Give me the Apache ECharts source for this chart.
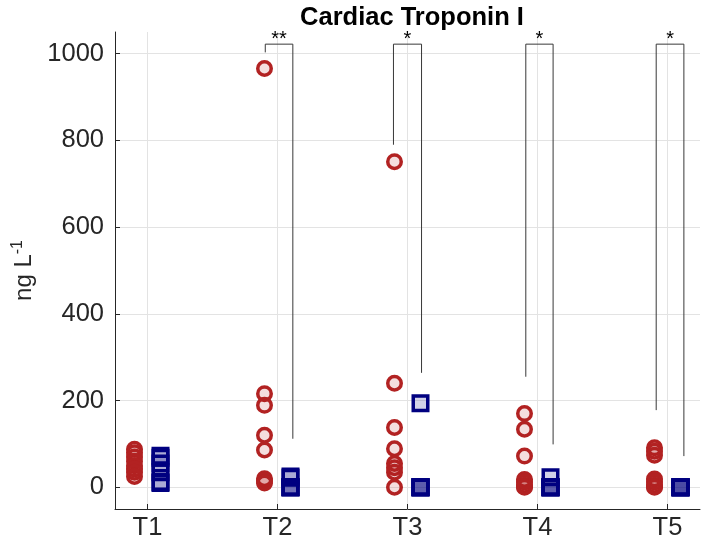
<!DOCTYPE html>
<html><head><meta charset="utf-8">
<script src="https://cdn.jsdelivr.net/npm/echarts@6/dist/echarts.min.js"></script>
<style>html,body{margin:0;padding:0;background:#fff}#c{width:708px;height:548px}</style>
</head><body><div id="c"></div>
<script>
// ---- data ----
const categories = ['T1', 'T2', 'T3', 'T4', 'T5'];
const titleText = 'Cardiac Troponin I';
const redValues = [
  [88, 80, 70, 60, 50, 42, 35, 25],
  [966, 216, 189, 120, 86, 20, 15, 10],
  [751, 240, 138, 89, 55, 45, 35, 0],
  [170, 134, 72, 18, 12, 5, 2, 0],
  [91, 83, 74, 19, 12, 5, 2, 0]
];
const blueValues = [
  [73, 68, 55, 35, 12, 10],
  [25, 22, 0, 0, 0, 0],
  [194, 0, 0, 0, 0, 0],
  [23, 0, 0, 0, 0, 0],
  [0, 0, 0, 0, 0, 0]
];
const yTicks = [0, 200, 400, 600, 800, 1000];
// significance brackets: time index, bracket top, left leg end, right leg end, label
const bracketTime = [2, 3, 4, 5];
const bracketTop = [1022, 1022, 1022, 1022];
const bracketLeftEnd = [1003, 790, 255, 178];
const bracketRightEnd = [112, 264, 99, 72];
const bracketLabel = ['**', '*', '*', '*'];

// ---- layout constants ----
const GROUP_OFF = 0.1;
const BR_LEFT = [-0.094, -0.108, -0.09, -0.087];
const BR_RIGHT = [0.118, 0.108, 0.12, 0.126];

const redData = [], blueData = [];
redValues.forEach((arr, i) => arr.forEach(v => redData.push([i + 1 - GROUP_OFF, v])));
blueValues.forEach((arr, i) => arr.forEach(v => blueData.push([i + 1 + GROUP_OFF, v])));
const bracketData = bracketTime.map((t, i) => [t, bracketTop[i], bracketLeftEnd[i], bracketRightEnd[i], i]);

const FONT = 'Liberation Sans, Arial, Helvetica, sans-serif';
const AX = '#262626';

const chart = echarts.init(document.getElementById('c'), null, {renderer: 'canvas'});
chart.setOption({
  animation: false,
  backgroundColor: '#fff',
  title: {
    text: titleText, left: 407, textAlign: 'center', top: 0,
    textStyle: {fontFamily: FONT, fontSize: 25.5, fontWeight: 'bold', color: '#000'}
  },
  grid: {left: 115, right: 8, top: 32, bottom: 39, containLabel: false},
  xAxis: {
    type: 'value', min: 0.75, max: 5.25,
    axisLine: {show: true, onZero: false, lineStyle: {color: AX, width: 1}},
    axisTick: {show: true, inside: true, length: 5, lineStyle: {color: AX}, customValues: [1, 2, 3, 4, 5]},
    axisLabel: {
      customValues: [1, 2, 3, 4, 5], margin: 6,
      formatter: v => categories[Math.round(v) - 1] || '',
      fontFamily: FONT, fontSize: 25.5, color: AX
    },
    splitLine: {show: true, lineStyle: {color: '#e3e3e3', width: 1}}
  },
  yAxis: {
    type: 'value', min: -50, max: 1050,
    name: '{a|ng L}{b|-1}', nameLocation: 'middle', nameGap: 73, nameRotate: 90,
    nameTextStyle: {
      rich: {
        a: {fontFamily: FONT, fontSize: 24, color: AX},
        b: {fontFamily: FONT, fontSize: 16, color: AX, padding: [0, 0, 13, 0]}
      }
    },
    axisLine: {show: true, lineStyle: {color: AX, width: 1}},
    axisTick: {show: true, inside: true, length: 5, lineStyle: {color: AX}, customValues: yTicks},
    axisLabel: {customValues: yTicks, margin: 11, formatter: v => String(v), fontFamily: FONT, fontSize: 25.5, color: AX},
    splitLine: {show: true, lineStyle: {color: '#e3e3e3', width: 1}}
  },
  series: [
    {
      type: 'custom', z: 1,
      data: bracketData,
      renderItem: (params, api) => {
        const t = api.value(0), top = api.value(1), le = api.value(2), re = api.value(3), k = api.value(4);
        const pL = api.coord([t + BR_LEFT[k], le]);
        const pLT = api.coord([t + BR_LEFT[k], top]);
        const pRT = api.coord([t + BR_RIGHT[k], top]);
        const pR = api.coord([t + BR_RIGHT[k], re]);
        const mid = api.coord([t + (BR_LEFT[k] + BR_RIGHT[k]) / 2, top]);
        return {
          type: 'group',
          children: [
            {type: 'polyline', shape: {points: [pL, pLT, pRT, pR]}, style: {stroke: '#383838', lineWidth: 1, fill: null}},
            {type: 'text', style: {text: bracketLabel[k], x: mid[0], y: mid[1] + 5, align: 'center', verticalAlign: 'bottom',
              font: '20px ' + FONT, fill: '#000'}}
          ]
        };
      }
    },
    {
      type: 'scatter', z: 3, symbol: 'circle', symbolSize: 13.5,
      data: redData,
      itemStyle: {color: 'rgba(178,34,34,0.15)', borderColor: '#b22222', borderWidth: 3.5, opacity: 1}
    },
    {
      type: 'scatter', z: 3, symbol: 'rect', symbolSize: 14.5,
      data: blueData,
      itemStyle: {color: 'rgba(0,0,128,0.18)', borderColor: '#000080', borderWidth: 3.5, opacity: 1}
    }
  ]
});
</script></body></html>
